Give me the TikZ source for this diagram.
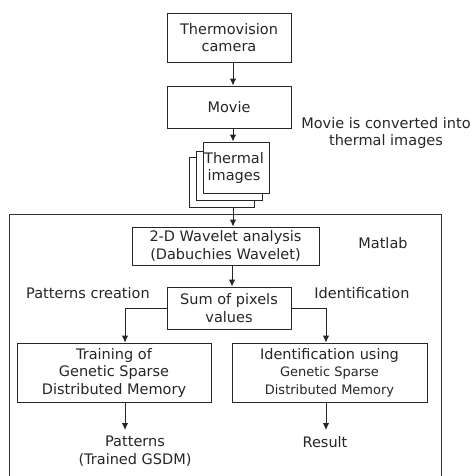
\documentclass[tikz,border=0pt]{standalone}
\usepackage{fontspec}
\setmainfont{DejaVu Sans}
\usetikzlibrary{arrows.meta,calc}
\begin{document}
\begin{tikzpicture}[x=1pt,y=-1pt,
  every node/.style={font=\fontsize{14.5}{17.5}\selectfont, text=black!85, align=center, inner sep=0pt},
  box/.style={draw=black!85, line width=0.9pt, fill=white},
  conn/.style={draw=black!85, line width=0.9pt, -{Latex[length=7pt,width=6.5pt]}},
  frame/.style={draw=black!80, line width=0.9pt},
  small/.style={font=\fontsize{13}{16}\selectfont}]
\useasboundingbox (0,0) rectangle (476,475);
% stacked thermal images (back ones first)
\node[box, minimum width=65pt, minimum height=50pt] (th3) at (221.5,182) {};
\node[box, minimum width=66pt, minimum height=49pt] (th2) at (229,175.5) {};
\node[box, minimum width=66pt, minimum height=51pt] (th1) at (236,167.5) {};
\node (thtxt) at (234,168) {Thermal\\images};
% nodes
\node[box, minimum width=124pt, minimum height=49pt] (cam) at (229,37.5) {Thermovision\\camera};
\node[box, minimum width=124pt, minimum height=42pt] (movie) at (229,107) {Movie};
\node (movtxt) at (386,133) {Movie is converted into\\thermal images};
% big frame
\coordinate (fl) at (9.5,476);
\coordinate (fr) at (441,476);
\draw[frame] (fl) -- (9.5,214) -- (441,214) -- (fr);
\node (matlab) at (383,243) {Matlab};
\node[box, minimum width=187pt, minimum height=38pt] (wav) at (225.5,246) {2-D Wavelet analysis\\(Dabuchies Wavelet)};
\node[box, minimum width=124pt, minimum height=42pt] (sum) at (229,308) {Sum of pixels\\values};
\node (pc) at (88,293) {Patterns creation};
\node (idt) at (362,293) {Identification};
\node[box, minimum width=194pt, minimum height=59pt] (train) at (114,372.5) {Training of\\Genetic Sparse\\Distributed Memory};
\node[box, minimum width=195pt, minimum height=59pt] (idbox) at (329.5,372.5) {Identification using\\{\fontsize{13}{17.5}\selectfont Genetic Sparse}\\{\fontsize{13}{17.5}\selectfont Distributed Memory}};
\node (pat) at (135,451) {Patterns\\(Trained GSDM)};
\node (res) at (325,442) {Result};
% connectors
\coordinate (ax) at (233,0);
\coordinate (bx) at (232,0);
\coordinate (lx) at (125,0);
\coordinate (rx) at (326,0);
\coordinate (pe) at (125,430);
\coordinate (re) at (326,430);
\draw[conn] (cam.south -| ax) -- (movie.north -| ax);
\draw[conn] (movie.south -| ax) -- (th1.north -| ax);
\draw[conn] (th3.south -| ax) -- (wav.north -| ax);
\draw[conn] (wav.south -| bx) -- (sum.north -| bx);
\draw[conn] (sum.west) -| (train.north -| lx);
\draw[conn] (sum.east) -| (idbox.north -| rx);
\draw[conn] (train.south -| lx) -- (pe);
\draw[conn] (idbox.south -| rx) -- (re);
\end{tikzpicture}
\end{document}
